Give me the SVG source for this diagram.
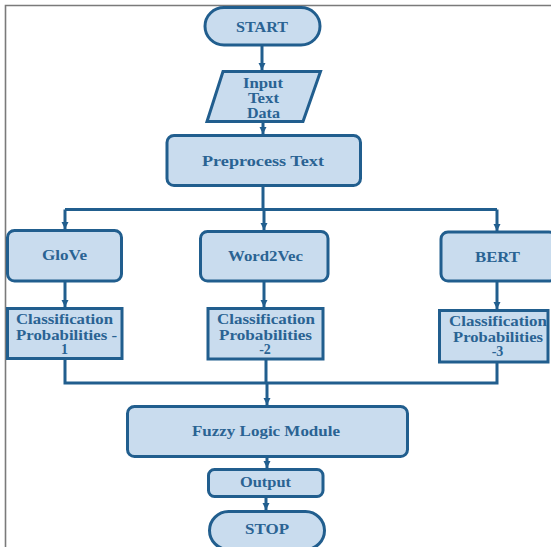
<svg xmlns="http://www.w3.org/2000/svg" width="551" height="547" viewBox="0 0 551 547">
<style>
.box{fill:#c9dcee;stroke:#215e8e;stroke-width:3}
.t{font-family:"Liberation Serif","Times New Roman",serif;font-weight:bold;font-size:14px;fill:#2a6393;text-anchor:middle}
.c{fill:none;stroke:#215e8e;stroke-width:3}
</style>
<defs>
<marker id="ah" markerUnits="userSpaceOnUse" markerWidth="8" markerHeight="8" refX="7" refY="4" orient="auto">
<path d="M0,0.5 L7,4 L0,7.5 z" fill="#215e8e"/>
</marker>
</defs>
<rect width="551" height="547" fill="#ffffff"/>
<path d="M5.5,547 V5.5 H551" fill="none" stroke="#7a7a7a" stroke-width="1.6"/>
<g id="connectors">
<path class="c" d="M262,45 V70" marker-end="url(#ah)"/>
<path class="c" d="M263,122 V134" marker-end="url(#ah)"/>
<path class="c" d="M263,186 V209.5"/>
<path class="c" d="M65,209.5 H497"/>
<path class="c" d="M65,209.5 V229" marker-end="url(#ah)"/>
<path class="c" d="M264,209.5 V230" marker-end="url(#ah)"/>
<path class="c" d="M497,209.5 V231" marker-end="url(#ah)"/>
<path class="c" d="M65,281 V307" marker-end="url(#ah)"/>
<path class="c" d="M264,281 V307" marker-end="url(#ah)"/>
<path class="c" d="M497,281 V309" marker-end="url(#ah)"/>
<path class="c" d="M65,358 V383 H497 V362"/>
<path class="c" d="M266,359 V383"/>
<path class="c" d="M267,383 V405" marker-end="url(#ah)"/>
<path class="c" d="M267,457 V468" marker-end="url(#ah)"/>
<path class="c" d="M266,496 V510" marker-end="url(#ah)"/>
</g>
<g id="start">
<rect class="box" x="205" y="7.5" width="115" height="37.5" rx="19"/>
<text class="t" x="262" y="31.5" textLength="52" lengthAdjust="spacingAndGlyphs">START</text>
</g>
<g id="input">
<path class="box" d="M223,71.5 H320.5 L303,121.5 H207 Z"/>
<text class="t" x="263" y="87.5" textLength="40" lengthAdjust="spacingAndGlyphs">Input</text>
<text class="t" x="263.5" y="102.5" textLength="31" lengthAdjust="spacingAndGlyphs">Text</text>
<text class="t" x="263.5" y="117.5" textLength="33" lengthAdjust="spacingAndGlyphs">Data</text>
</g>
<g id="preprocess">
<rect class="box" x="167" y="135.5" width="193.5" height="50" rx="7"/>
<text class="t" x="263" y="165.5" textLength="122" lengthAdjust="spacingAndGlyphs">Preprocess Text</text>
</g>
<g id="glove">
<rect class="box" x="7.5" y="230.5" width="114" height="50.5" rx="7"/>
<text class="t" x="64.5" y="260" textLength="45" lengthAdjust="spacingAndGlyphs">GloVe</text>
</g>
<g id="word2vec">
<rect class="box" x="200.5" y="231.5" width="127.5" height="49.5" rx="7"/>
<text class="t" x="265.5" y="261" textLength="75" lengthAdjust="spacingAndGlyphs">Word2Vec</text>
</g>
<g id="bert">
<rect class="box" x="441" y="232" width="115" height="49" rx="7"/>
<text class="t" x="497.5" y="261.5" textLength="45" lengthAdjust="spacingAndGlyphs">BERT</text>
</g>
<g id="prob1">
<rect class="box" x="7.5" y="308.5" width="114.5" height="50"/>
<text class="t" x="64.5" y="324" textLength="97" lengthAdjust="spacingAndGlyphs">Classification</text>
<text class="t" x="66.5" y="340" textLength="101" lengthAdjust="spacingAndGlyphs">Probabilities -</text>
<text class="t" x="64.5" y="354">1</text>
</g>
<g id="prob2">
<rect class="box" x="208" y="308.5" width="115" height="50.5"/>
<text class="t" x="266" y="324" textLength="98" lengthAdjust="spacingAndGlyphs">Classification</text>
<text class="t" x="265.5" y="340" textLength="93" lengthAdjust="spacingAndGlyphs">Probabilities</text>
<text class="t" x="265" y="354">-2</text>
</g>
<g id="prob3">
<rect class="box" x="439.5" y="310.5" width="108.5" height="51.5"/>
<text class="t" x="498" y="326" textLength="98" lengthAdjust="spacingAndGlyphs">Classification</text>
<text class="t" x="498" y="342" textLength="90" lengthAdjust="spacingAndGlyphs">Probabilities</text>
<text class="t" x="497.5" y="356">-3</text>
</g>
<g id="fuzzy">
<rect class="box" x="127.5" y="406.5" width="280" height="50" rx="7"/>
<text class="t" x="266" y="436" textLength="148" lengthAdjust="spacingAndGlyphs">Fuzzy Logic Module</text>
</g>
<g id="output">
<rect class="box" x="208.5" y="469.5" width="114.5" height="27" rx="6"/>
<text class="t" x="265.5" y="487" textLength="51" lengthAdjust="spacingAndGlyphs">Output</text>
</g>
<g id="stop">
<rect class="box" x="209.5" y="511.5" width="115" height="38" rx="19"/>
<text class="t" x="267" y="534" textLength="44" lengthAdjust="spacingAndGlyphs">STOP</text>
</g>
</svg>
